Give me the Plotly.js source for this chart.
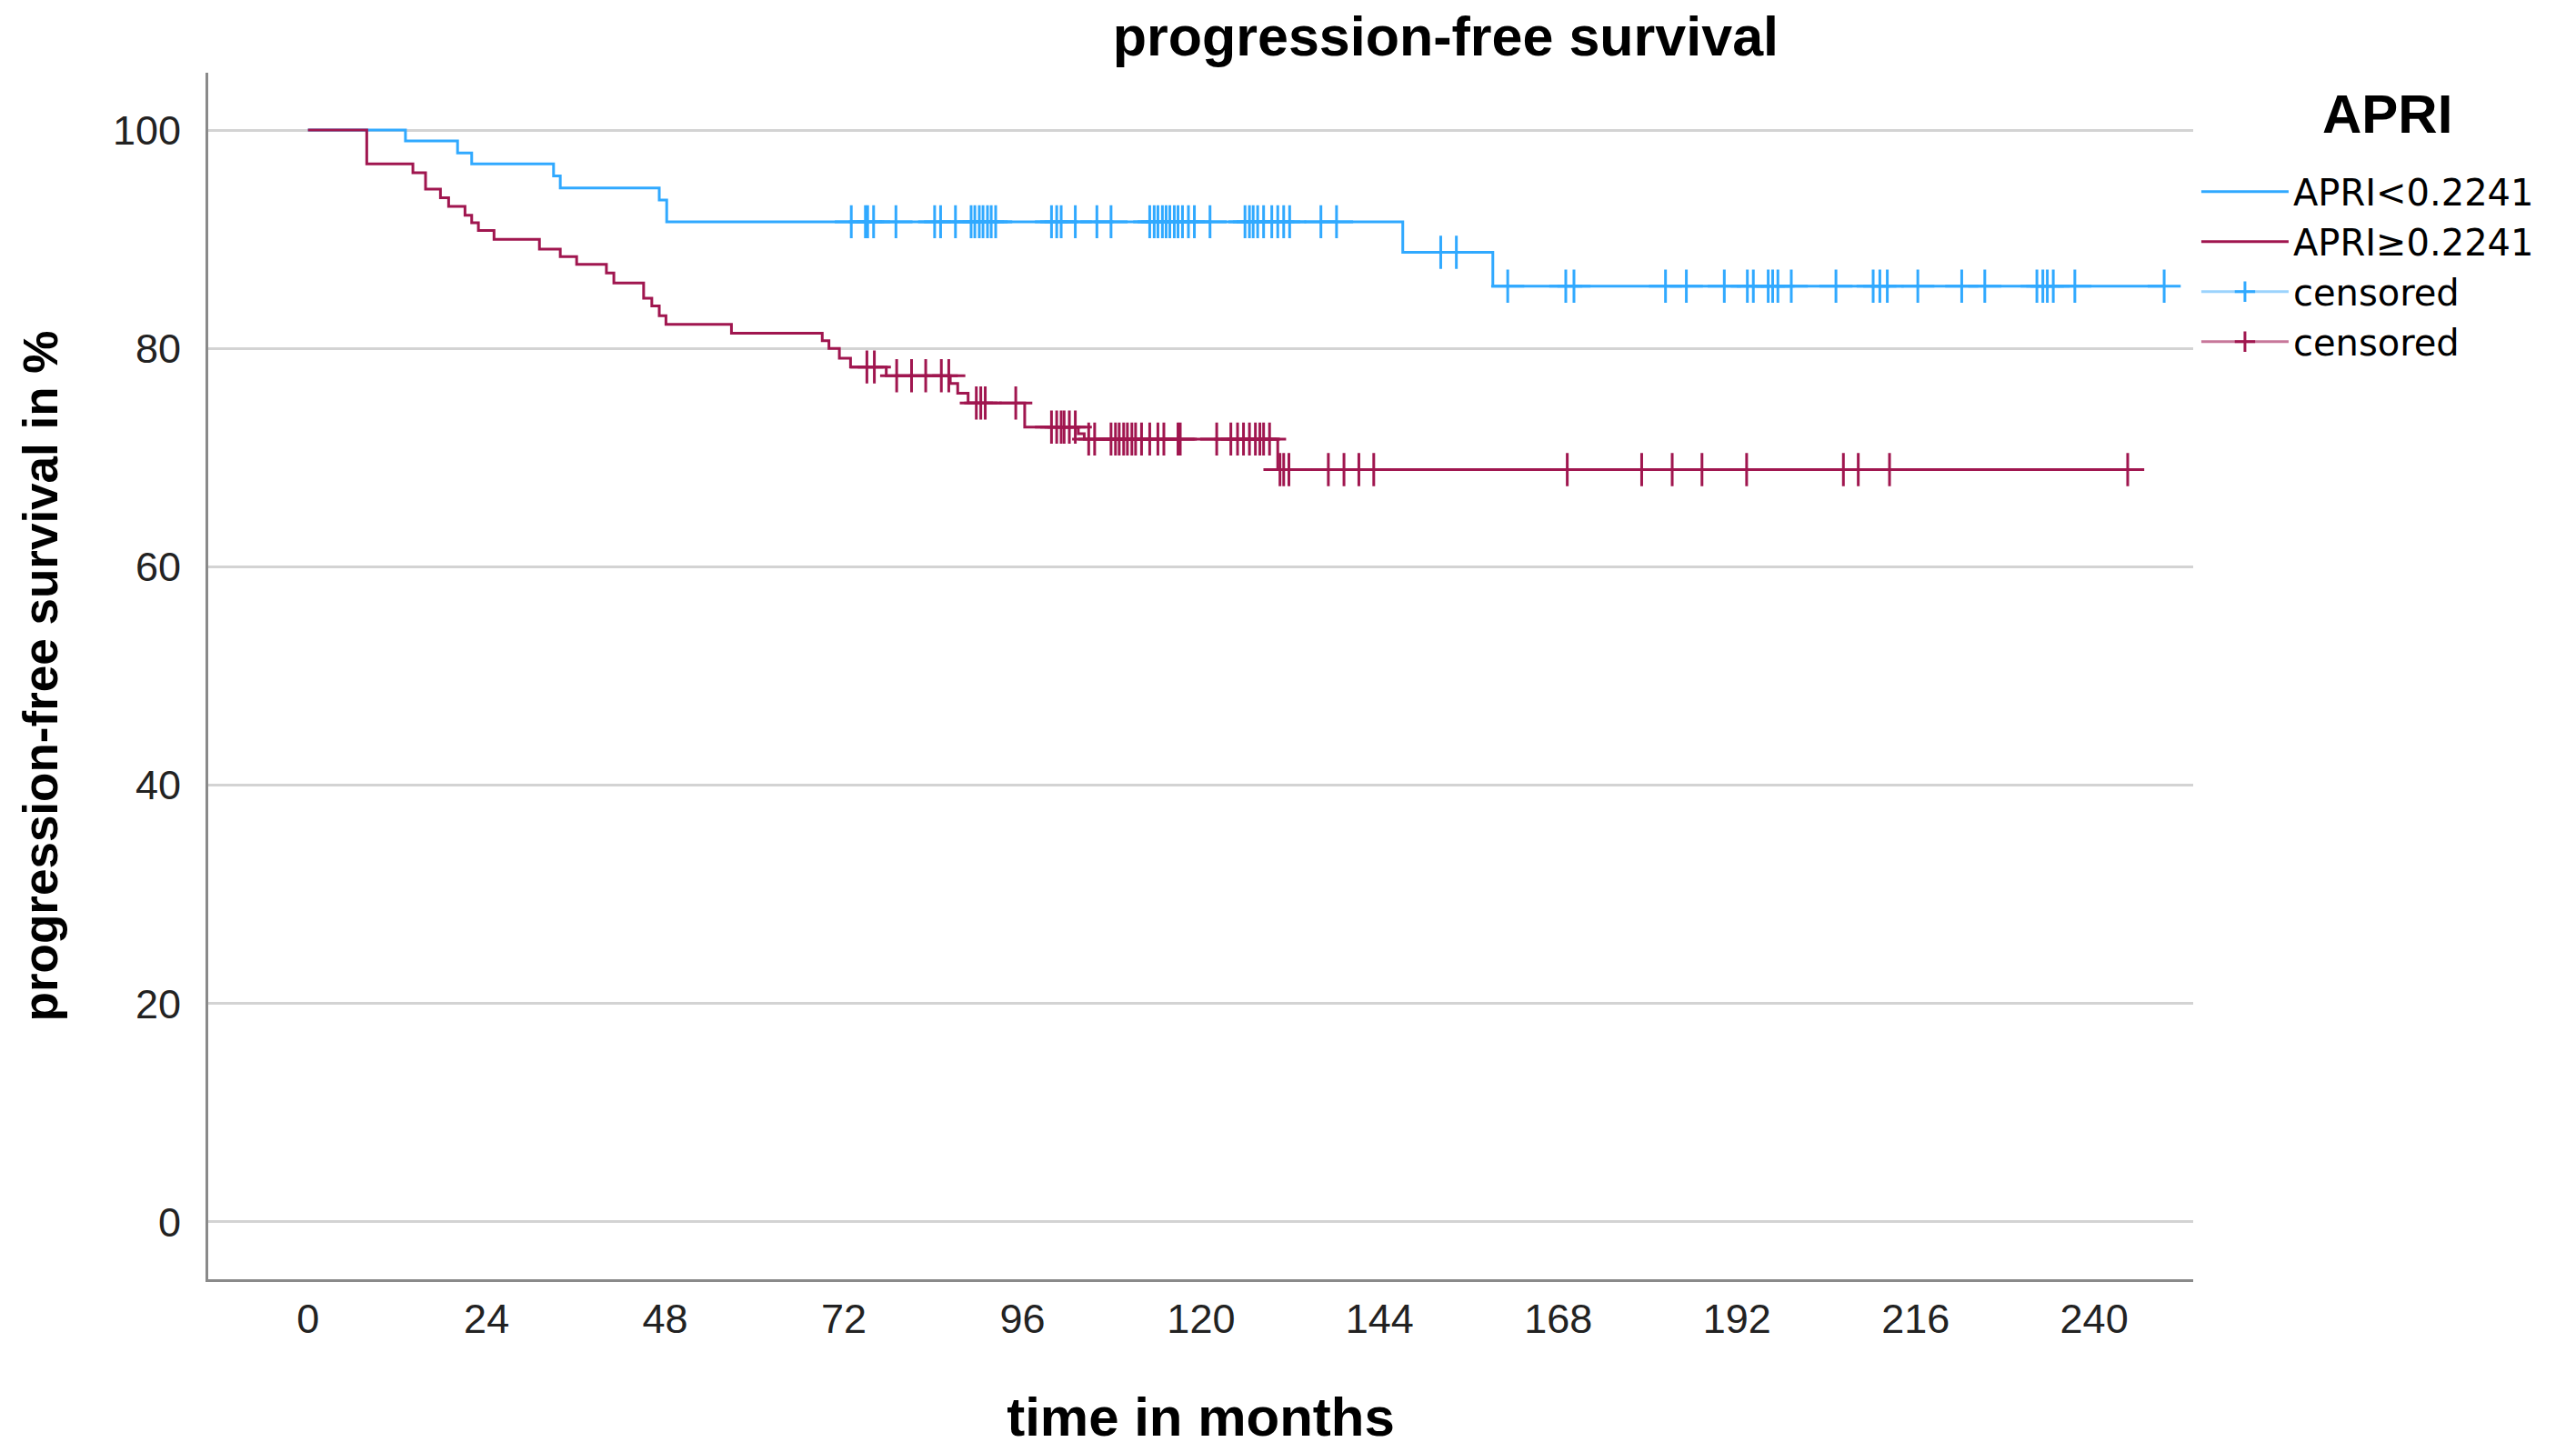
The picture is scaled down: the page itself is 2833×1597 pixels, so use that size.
<!DOCTYPE html>
<html>
<head>
<meta charset="utf-8">
<script src="https://cdn.plot.ly/plotly-3.0.1.min.js"></script>
<style>html,body{margin:0;padding:0;background:#fff;}#chart{width:2833px;height:1597px;}</style>
</head>
<body>
<div id="chart"></div>
<script>
// ---- data ----
const groupNames = ["APRI&lt;0.2241", "APRI≥0.2241"];
const censorName = "censored";
const legendTitle = "APRI";

// APRI<0.2241 : event times (months) and survival (%)
const blueTimes = [0, 13.1, 20.1, 22.0, 33.0, 33.9, 47.2, 48.2, 147.1, 159.2];
const blueSurv  = [100, 99.0, 97.9, 96.9, 95.8, 94.7, 93.6, 91.6, 88.8, 85.7];
const blueCensor = [73.0, 74.9, 75.2, 76.0, 79.0, 84.2, 85.0, 87.0, 89.1, 89.6, 90.2, 90.7, 91.3, 91.8, 92.4,
  99.9, 100.6, 101.2, 103.1, 106.0, 107.9, 113.1, 113.7, 114.2, 114.8, 115.3, 115.8, 116.4, 116.9, 117.5,
  118.3, 119.1, 121.2, 125.9, 126.5, 127.0, 127.6, 128.4, 129.5, 130.3, 131.1, 131.9, 136.1, 138.2,
  152.2, 154.3, 161.2, 169.0, 170.1, 182.4, 185.2, 190.3, 193.4, 194.2, 196.2, 196.8, 197.5, 199.3,
  205.3, 210.3, 211.2, 212.2, 216.3, 222.2, 225.3, 232.3, 233.1, 233.7, 234.5, 237.4, 249.4];

// APRI≥0.2241
const redTimes = [0, 7.9, 14.1, 15.8, 17.8, 18.9, 21.1, 22.0, 22.9, 25.0, 31.1, 33.9, 36.1, 40.1, 41.1,
  45.1, 46.2, 47.2, 48.1, 56.9, 69.1, 70.0, 71.4, 72.9, 77.7, 86.3, 87.3, 88.7, 96.3, 103.5, 104.3, 130.3];
const redSurv = [100, 96.9, 96.1, 94.6, 93.8, 93.0, 92.2, 91.5, 90.8, 90.0, 89.1, 88.4, 87.7, 86.9, 86.0,
  84.6, 83.9, 83.0, 82.2, 81.4, 80.7, 80.0, 79.1, 78.3, 77.5, 76.8, 75.9, 75.0, 72.8, 72.2, 71.7, 68.9];
const redCensor = [75.1, 76.1, 79.1, 81.1, 83.0, 85.1, 86.1, 89.8, 90.4, 91.0, 95.1,
  99.9, 100.6, 101.2, 101.6, 102.3, 103.1, 104.9, 105.7, 107.9, 108.5, 109.0, 109.6, 110.1, 110.7,
  111.2, 112.0, 113.1, 114.2, 115.0, 116.9, 117.2, 122.1, 124.0, 124.9, 125.7, 126.5, 127.3, 127.9,
  128.4, 129.2, 130.6, 131.1, 131.8, 137.1, 139.2, 141.2, 143.2, 169.2, 179.2, 183.3, 187.3, 193.3,
  206.3, 208.3, 212.5, 244.5];

const xTicks = [0, 24, 48, 72, 96, 120, 144, 168, 192, 216, 240];
const yTicks = [0, 20, 40, 60, 80, 100];

// ---- helpers ----
function survAt(times, surv, t) {
  let v = surv[0];
  for (let i = 0; i < times.length; i++) { if (times[i] <= t) v = surv[i]; }
  return v;
}
function curve(times, surv, censor) {
  const last = Math.max(...censor);
  return { x: times.concat([last]), y: surv.concat([surv[surv.length - 1]]) };
}
function censorPts(times, surv, censor) {
  const x = [], y = [];
  censor.forEach(t => { x.push(t, null); y.push(survAt(times, surv, t), null); });
  return { x, y };
}

const BLUE = "#30A9FF", RED = "#A0164F";
const BLUE_LIGHT = "#9BD3FD", RED_LIGHT = "#C7779A";
const FONT = "Liberation Sans, Arial, sans-serif";
const LEGEND_FONT = "DejaVu Sans, Liberation Sans, sans-serif";

const bc = curve(blueTimes, blueSurv, blueCensor);
const rc = curve(redTimes, redSurv, redCensor);
const bcs = censorPts(blueTimes, blueSurv, blueCensor);
const rcs = censorPts(redTimes, redSurv, redCensor);

const traces = [
  { x: bc.x, y: bc.y, name: groupNames[0], mode: "lines", line: { shape: "hv", color: BLUE, width: 3 } },
  { x: rc.x, y: rc.y, name: groupNames[1], mode: "lines", line: { shape: "hv", color: RED, width: 3 } },
  { x: bcs.x, y: bcs.y, name: censorName, mode: "lines+markers", connectgaps: false,
    line: { color: BLUE_LIGHT, width: 3 },
    marker: { symbol: "cross-thin", size: 26, color: BLUE, line: { color: BLUE, width: 3 } } },
  { x: rcs.x, y: rcs.y, name: censorName, mode: "lines+markers", connectgaps: false,
    line: { color: RED_LIGHT, width: 3 },
    marker: { symbol: "cross-thin", size: 26, color: RED, line: { color: RED, width: 3 } } }
];

const layout = {
  width: 2833, height: 1597,
  paper_bgcolor: "#fff", plot_bgcolor: "#fff",
  margin: { l: 229, r: 421, t: 80, b: 190 },
  font: { family: FONT, color: "#000" },
  title: { text: "progression-free survival", xref: "paper", x: 0.5612 * 2833 / 2183 - 229 / 2183, xanchor: "center",
           yref: "container", y: 1 - 40 / 1597, yanchor: "middle",
           font: { family: FONT, size: 61, weight: "bold", color: "#000" } },
  xaxis: {
    range: [-13.4, 253.3], tickmode: "array", tickvals: xTicks, ticktext: xTicks.map(String),
    showgrid: false, zeroline: false, showline: true, linecolor: "#8a8a8a", linewidth: 3,
    ticks: "", ticklabelstandoff: 2,
    tickfont: { family: FONT, size: 45, color: "#222" },
    title: { text: "time in months", standoff: 62, font: { family: FONT, size: 60, weight: "bold", color: "#000" } }
  },
  yaxis: {
    range: [-5.25, 105.25], tickmode: "array", tickvals: yTicks, ticktext: yTicks.map(String),
    showgrid: true, gridcolor: "#d3d3d3", gridwidth: 3, zeroline: false,
    showline: true, linecolor: "#8a8a8a", linewidth: 3,
    ticks: "", ticklabelstandoff: 18,
    tickfont: { family: FONT, size: 45, color: "#222" },
    title: { text: "progression-free survival in %", standoff: 44, font: { family: FONT, size: 53, weight: "bold", color: "#000" } }
  },
  legend: {
    x: 1.0018, xanchor: "left", y: 0.926, yanchor: "top",
    itemwidth: 96, bgcolor: "rgba(0,0,0,0)", borderwidth: 0,
    font: { family: LEGEND_FONT, size: 40, color: "#000" },
    itemclick: false, itemdoubleclick: false
  },
  annotations: [{
    text: legendTitle, xref: "paper", yref: "paper",
    x: (2625 - 229) / 2183, y: 1 - (126 - 80) / 1327, xanchor: "center", yanchor: "middle",
    showarrow: false, font: { family: FONT, size: 60, weight: "bold", color: "#000" }
  }],
  showlegend: true
};

Plotly.newPlot("chart", traces, layout, { staticPlot: true, displayModeBar: false });
</script>
</body>
</html>
